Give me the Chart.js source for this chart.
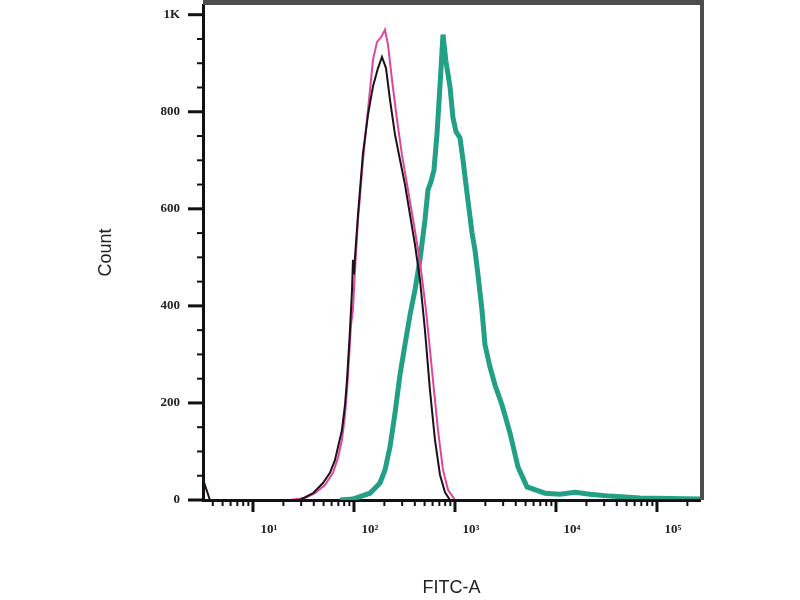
<!DOCTYPE html>
<html>
<head>
<meta charset="utf-8">
<script src="https://cdn.jsdelivr.net/npm/chart.js@4.4.1/dist/chart.umd.min.js"></script>
<style>
  html, body { margin: 0; padding: 0; background: #fff; }
  canvas { display: block; }
</style>
</head>
<body>
<canvas id="chart-fitc" width="800" height="600"></canvas>
<script>
// FITC-A intensity (x) and event count (y)
const blackX = [3.2, 3.35, 3.75, 18.5, 29.2, 39.3, 49.3, 57.8, 64.8, 69.5, 76.0, 81.5, 85.3, 91.3, 95.5, 97.7, 100, 102.3, 109.6, 122.8, 137.7, 154.2, 172.9, 189.3, 207.5, 227.2, 254.8, 285.4, 319.9, 358.5, 401.9, 450.2, 504.4, 565.1, 633.7, 710.2, 796.4, 892.5, 266700]
const blackY = [45, 30, 0, 0, 0, 14, 35, 56, 82, 109, 144, 196, 247, 350, 430, 495, 465, 500, 588, 715, 794, 852, 890, 913, 890, 825, 753, 701, 650, 588, 526, 454, 350, 227, 124, 52, 16, 0, 0]

const pinkX = [23.2, 32.7, 41.1, 51.6, 61.9, 69.5, 76.0, 81.5, 85.3, 89.2, 93.4, 97.7, 102.3, 109.6, 122.8, 137.7, 154.2, 169.0, 185.0, 202.8, 217.2, 237.8, 266.6, 298.6, 342.7, 392.9, 450.2, 516.0, 591.7, 678.7, 760.9, 852.8, 1000, 266700]
const pinkY = [0, 4, 14, 31, 56, 87, 124, 175, 227, 289, 361, 392, 474, 577, 701, 804, 907, 944, 953, 969, 938, 866, 784, 711, 639, 567, 491, 392, 268, 144, 62, 21, 0, 0]

const tealX = [72.6, 97.7, 143.9, 180.8, 202.8, 227.2, 254.8, 285.4, 319.9, 358.5, 401.9, 450.2, 504.4, 540.1, 578.3, 619.3, 663.2, 710.2, 760.9, 814.9, 892.5, 955, 1023, 1121, 1200, 1315, 1474, 1578, 1690, 1849, 1982, 2222, 2490, 2920, 3506, 4206, 5162, 7787, 10960, 15420, 21720, 34250, 67880, 266700]
const tealY = [0, 2, 14, 35, 62, 109, 179, 258, 320, 381, 433, 495, 577, 639, 656, 680, 753, 852, 959, 903, 852, 788, 759, 746, 701, 633, 551, 515, 464, 392, 320, 274, 237, 196, 138, 68, 27, 14, 12, 16, 12, 8, 4, 2, 0]

const xMajorTicks = [10, 100, 1000, 10000, 100000]
const xTickLabels = ['10\u00B9', '10\u00B2', '10\u00B3', '10\u2074', '10\u2075']
const yMajorTicks = [0, 200, 400, 600, 800, 1000]
const yTickLabels = ['0', '200', '400', '600', '800', '1K']

const toPoints = (xs, ys) => xs.map((x, i) => ({ x: x, y: ys[i] }))

// short tick marks, majors and minors, placed by the scales
const tickMarks = {
  id: 'tickMarks',
  afterDraw(chart) {
    const { ctx, chartArea, scales: { x, y } } = chart
    ctx.save()
    ctx.strokeStyle = '#111'
    for (let i = 0; i < yMajorTicks.length; i++) {
      const v = yMajorTicks[i]
      const py = y.getPixelForValue(v)
      ctx.lineWidth = 3
      ctx.beginPath(); ctx.moveTo(chartArea.left - 15, py); ctx.lineTo(chartArea.left, py); ctx.stroke()
      if (i < yMajorTicks.length - 1) {
        const step = (yMajorTicks[i + 1] - v) / 4
        for (let k = 1; k < 4; k++) {
          const pm = y.getPixelForValue(v + step * k)
          ctx.lineWidth = 2
          ctx.beginPath(); ctx.moveTo(chartArea.left - 6, pm); ctx.lineTo(chartArea.left, pm); ctx.stroke()
        }
      }
    }
    const decades = [1].concat(xMajorTicks)
    decades.forEach(d => {
      for (let m = 1; m < 10; m++) {
        const v = d * m
        if (v < x.min || v > x.max) continue
        const px = x.getPixelForValue(v)
        const major = m === 1
        ctx.lineWidth = major ? 3 : 2
        ctx.beginPath(); ctx.moveTo(px, chartArea.bottom); ctx.lineTo(px, chartArea.bottom + (major ? 12 : 6)); ctx.stroke()
      }
    })
    ctx.restore()
  }
}

// dark frame on top and right of the plot
const plotFrame = {
  id: 'plotFrame',
  afterDraw(chart) {
    const { ctx, chartArea } = chart
    ctx.save()
    ctx.strokeStyle = '#4d4d4d'
    ctx.lineWidth = 5
    ctx.beginPath()
    ctx.moveTo(chartArea.left, chartArea.top - 2.5)
    ctx.lineTo(chartArea.right + 2, chartArea.top - 2.5)
    ctx.stroke()
    ctx.lineWidth = 4
    ctx.beginPath()
    ctx.moveTo(chartArea.right + 2, chartArea.top - 5)
    ctx.lineTo(chartArea.right + 2, chartArea.bottom)
    ctx.stroke()
    ctx.restore()
  }
}

const ctxFitc = document.getElementById('chart-fitc').getContext('2d')

new Chart(ctxFitc, {
  type: 'line',
  data: {
    datasets: [
      {
        label: 'black',
        data: toPoints(blackX, blackY),
        borderColor: '#1c1218',
        borderWidth: 2,
        pointRadius: 0,
        tension: 0
      },
      {
        label: 'pink',
        data: toPoints(pinkX, pinkY),
        borderColor: '#e0449c',
        borderWidth: 2,
        pointRadius: 0,
        tension: 0
      },
      {
        label: 'teal',
        data: toPoints(tealX, tealY),
        borderColor: '#22a086',
        borderWidth: 5,
        pointRadius: 0,
        tension: 0
      }
    ]
  },
  options: {
    responsive: false,
    animation: false,
    layout: { padding: { top: 5, right: 100, left: 0, bottom: 0 } },
    plugins: {
      legend: { display: false },
      tooltip: { enabled: false }
    },
    scales: {
      x: {
        type: 'logarithmic',
        min: 3.2,
        max: 266700,
        afterBuildTicks: scale => { scale.ticks = xMajorTicks.map(v => ({ value: v })) },
        afterFit: scale => {
          scale.height = 100
          scale.paddingLeft = 0
          scale.paddingRight = 0
        },
        ticks: {
          autoSkip: false,
          maxRotation: 0,
          padding: 22,
          labelOffset: 16,
          color: '#222',
          font: { family: 'Liberation Serif', size: 13, weight: 'bold' },
          callback: (value, index) => xTickLabels[index]
        },
        grid: { display: false, drawTicks: false },
        border: { display: true, color: '#111', width: 3 },
        title: {
          display: true,
          text: 'FITC-A',
          color: '#222',
          font: { family: 'Liberation Sans', size: 18 },
          padding: { top: 0, bottom: 1 }
        }
      },
      y: {
        min: 0,
        max: 1020,
        afterBuildTicks: scale => { scale.ticks = yMajorTicks.map(v => ({ value: v })) },
        afterFit: scale => {
          scale.width = 203
          scale.paddingTop = 0
          scale.paddingBottom = 0
        },
        ticks: {
          autoSkip: false,
          padding: 23,
          color: '#222',
          font: { family: 'Liberation Serif', size: 13, weight: 'bold' },
          callback: (value, index) => yTickLabels[index]
        },
        grid: { display: false, drawTicks: false },
        border: { display: true, color: '#111', width: 3 },
        title: {
          display: true,
          text: 'Count',
          color: '#222',
          font: { family: 'Liberation Sans', size: 18 },
          padding: { top: 95, bottom: 0 }
        }
      }
    }
  },
  plugins: [tickMarks, plotFrame]
})
</script>
</body>
</html>
